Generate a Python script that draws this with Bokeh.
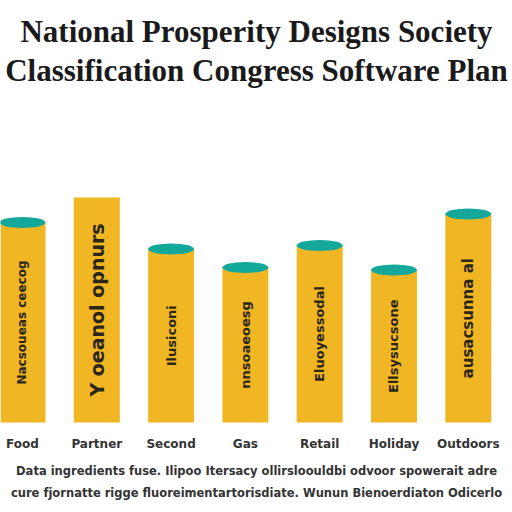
import math
from bokeh.plotting import figure
from bokeh.models import ColumnDataSource, Label, Range1d
from bokeh.core.properties import value
from bokeh.embed import file_html
from bokeh.resources import INLINE

# ---- data ----
categories = ["Food", "Partner", "Second", "Gas", "Retail", "Holiday", "Outdoors"]
values = [80, 90, 69.4, 62, 70.8, 61, 83.4]
bar_texts = ["Nacsoueas ceecog", "Y oeanol opnurs", "Ilusiconi", "nnsoaeoesg",
             "Eluoyessodal", "Ellsysucsone", "ausacsunna al"]
has_cap = [True, False, True, True, True, True, True]
title_1 = "National Prosperity Designs Society"
title_2 = "Classification Congress Software Plan"
footer_1 = "Data ingredients fuse. Ilipoo Itersacy ollirsloouldbi odvoor spowerait adre"
footer_2 = "cure fjornatte rigge fluoreimentartorisdiate. Wunun Bienoerdiaton Odicerlo"

W, H = 512, 512
p = figure(width=W, height=H, output_backend="svg", toolbar_location=None,
           x_axis_type=None, y_axis_type=None, min_border=0,
           x_range=Range1d(-0.296, 6.595), y_range=Range1d(-36, 168.8))
p.outline_line_color = None
p.grid.visible = False
p.background_fill_color = "white"
p.border_fill_color = "white"

xs = list(range(len(categories)))
bw = 0.619
src = ColumnDataSource(dict(x=xs, top=values, cat=categories, txt=bar_texts,
                            ty=[v / 2 for v in values],
                            fs=["12px", "19px", "13px", "13px", "13px", "13px", "15px"]))
p.vbar(x="x", top="top", bottom=0, width=bw, source=src,
       fill_color="#F1B623", line_color=None)

cx = [x for x, c in zip(xs, has_cap) if c]
cy = [v for v, c in zip(values, has_cap) if c]
p.ellipse(x=cx, y=cy, width=bw, height=4.4, fill_color="#14A89A", line_color=None)

p.text(x="x", y="ty", text="txt", source=src, angle=math.pi / 2,
       text_align="center", text_baseline="middle", text_font_size="fs",
       text_font=value("DejaVu Sans"), text_font_style="bold", text_color="#2b2616")

p.text(x="x", y=-8.4, text="cat", source=src, text_align="center",
       text_baseline="middle", text_font_size="12px",
       text_font=value("DejaVu Sans"), text_font_style="bold", text_color="#333333")

for txt, y in [(title_1, 481), (title_2, 442)]:
    p.add_layout(Label(x=W / 2, y=y, x_units="screen", y_units="screen", text=txt,
                       text_align="center", text_baseline="middle",
                       text_font_size="31px", text_font="Liberation Serif",
                       text_font_style="bold", text_color="#1a1a1a"))

for txt, y in [(footer_1, 42), (footer_2, 20)]:
    p.add_layout(Label(x=W / 2, y=y, x_units="screen", y_units="screen", text=txt,
                       text_align="center", text_baseline="middle",
                       text_font_size="11.5px", text_font="DejaVu Sans",
                       text_font_style="bold", text_color="#333333"))

open("out.html", "w").write(file_html(p, INLINE))
